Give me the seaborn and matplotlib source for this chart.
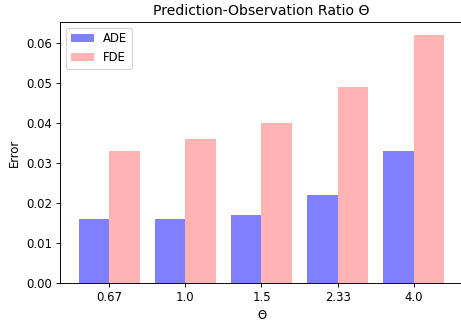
import matplotlib
matplotlib.use("Agg")
import matplotlib.pyplot as plt
import seaborn as sns
import pandas as pd

# Prediction-observation ratios and the corresponding errors
thetas = ["0.67", "1.0", "1.5", "2.33", "4.0"]
ade = [0.016, 0.016, 0.017, 0.022, 0.033]
fde = [0.033, 0.036, 0.040, 0.049, 0.062]

df = pd.DataFrame({
    "theta": thetas * 2,
    "value": ade + fde,
    "metric": ["ADE"] * len(thetas) + ["FDE"] * len(thetas),
})

DPI = 84
fig = plt.figure(figsize=(461 / DPI, 324 / DPI), dpi=DPI)
ax = fig.add_axes([0.1302, 0.1256, 0.874, 0.8074])

sns.barplot(
    data=df, x="theta", y="value", hue="metric", order=thetas,
    hue_order=["ADE", "FDE"],
    palette={"ADE": "#8080ff", "FDE": "#ffb3b3"},
    saturation=1, width=0.8, linewidth=0, errorbar=None, ax=ax,
)

ax.set_xlim(-0.643, 4.643)
ax.set_ylim(0, 0.0652)
ax.set_yticks([0.0, 0.01, 0.02, 0.03, 0.04, 0.05, 0.06])
ax.set_yticklabels(["0.00", "0.01", "0.02", "0.03", "0.04", "0.05", "0.06"])
ax.tick_params(labelsize=10)
ax.set_xlabel("Θ", fontsize=10)
ax.set_ylabel("Error", fontsize=10)
ax.set_title("Prediction-Observation Ratio Θ", fontsize=12)
ax.legend(loc="upper left", fontsize=10)

fig.savefig("out.png", dpi=DPI)
